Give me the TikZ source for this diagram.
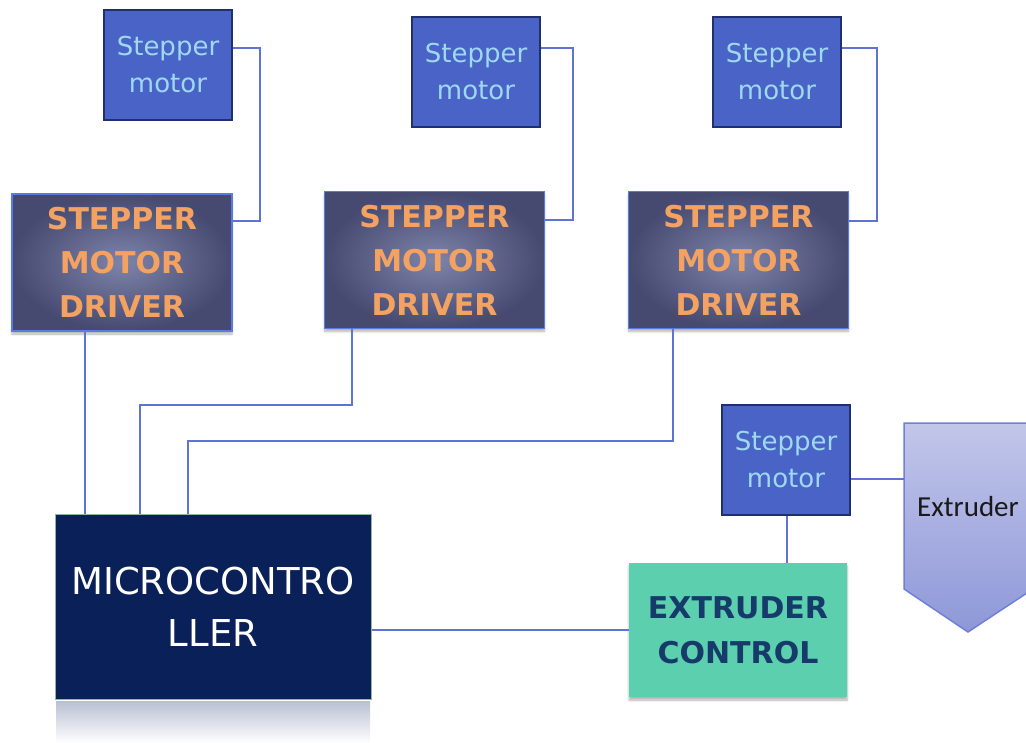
\documentclass[tikz,border=0pt]{standalone}
\usepackage{fontspec}
\setmainfont{DejaVu Sans}
\newfontfamily\calfont{Carlito}
\usetikzlibrary{shadows.blur,calc}

\definecolor{smfill}{HTML}{4A63C6}
\definecolor{smdraw}{HTML}{1F2F70}
\definecolor{smtext}{HTML}{9ED9F2}
\definecolor{wirec}{HTML}{5F72D6}
\definecolor{drvout}{HTML}{464A70}
\definecolor{drvin}{HTML}{7E83AA}
\definecolor{drvdraw}{HTML}{5B7BE0}
\definecolor{drvtext}{HTML}{F4A262}
\definecolor{mcufill}{HTML}{0A2058}
\definecolor{mcudraw}{HTML}{8CB8A8}
\definecolor{extfill}{HTML}{5BCFAE}
\definecolor{exttext}{HTML}{163A6A}
\definecolor{shtop}{HTML}{C2C6EA}
\definecolor{shbot}{HTML}{8E98D8}
\definecolor{shdraw}{HTML}{6E80DA}
\definecolor{reflc}{HTML}{B9C0D2}

\tikzset{
  motorbox/.style={draw=smdraw, line width=1.2pt, fill=smfill, text=smtext,
    minimum width=128pt, minimum height=110pt, inner sep=0pt, align=center,
    font=\fontsize{26}{37}\selectfont},
  driverbox/.style={draw=drvdraw, line width=1.5pt, inner color=drvin, outer color=drvout,
    text=drvtext, minimum width=220pt, minimum height=137pt, inner sep=0pt, align=center,
    font=\bfseries\fontsize{30}{44}\selectfont,
    blur shadow={shadow xshift=0pt, shadow yshift=-3pt, shadow opacity=30, shadow blur steps=6}},
  mcubox/.style={draw=mcudraw, line width=1pt, fill=mcufill, text=white,
    minimum width=316pt, minimum height=185pt, inner sep=0pt, align=center,
    font=\fontsize{37}{52}\selectfont},
  ctrlbox/.style={fill=extfill, text=exttext, minimum width=218pt, minimum height=134pt,
    inner sep=0pt, align=center, font=\bfseries\fontsize{30}{45}\selectfont,
    blur shadow={shadow xshift=0pt, shadow yshift=-3pt, shadow opacity=30, shadow blur steps=6}},
  wire/.style={draw=wirec, line width=1.6pt},
}

\begin{document}
\begin{tikzpicture}[x=1pt, y=-1pt]
\useasboundingbox (0,0) rectangle (1026,743);

% stepper motors
\node[motorbox] (sm1) at (168,65) {Stepper\\motor};
\node[motorbox] (sm2) at (476,72) {Stepper\\motor};
\node[motorbox] (sm3) at (777,72) {Stepper\\motor};
\node[motorbox] (sm4) at (786,460) {Stepper\\motor};

% drivers
\node[driverbox] (d1) at (122,262.5) {STEPPER\\MOTOR\\DRIVER};
\node[driverbox] (d2) at (434.5,260) {STEPPER\\MOTOR\\DRIVER};
\node[driverbox] (d3) at (738.5,260) {STEPPER\\MOTOR\\DRIVER};

% reflection under the microcontroller
\shade[top color=reflc, bottom color=white] (56,701) rectangle (370,743);

% microcontroller
\node[mcubox] (mcu) at (213,606.5) {MICROCONTRO\\LLER};

% extruder control
\node[ctrlbox] (ctrl) at (738,630) {EXTRUDER\\CONTROL};

% extruder (pentagon arrow pointing down)
\coordinate (ex1) at (904,423);
\coordinate (ex2) at (1033,423);
\coordinate (ex3) at (1033,589);
\coordinate (ex4) at (968,632);
\coordinate (ex5) at (904,589);
\shade[top color=shtop, bottom color=shbot, draw=shdraw, line width=1.5pt]
  (ex1) -- (ex2) -- (ex3) -- (ex4) -- (ex5) -- cycle;
\node[text=black!90, font=\calfont\fontsize{29}{30}\selectfont, inner sep=0pt] (extr) at (968,507) {Extruder};

% motor to driver wires
\draw[wire] (sm1.east |- 0,48) -| (260,221) -- (d1.east |- 0,221);
\draw[wire] (sm2.east |- 0,48) -| (573,220) -- (d2.east |- 0,220);
\draw[wire] (sm3.east |- 0,48) -| (877,221) -- (d3.east |- 0,221);

% driver to microcontroller wires
\draw[wire] (d1.south -| 85,0) -- (mcu.north -| 85,0);
\draw[wire] (d2.south -| 352,0) |- (140,405) -- (mcu.north -| 140,0);
\draw[wire] (d3.south -| 673,0) |- (188,441) -- (mcu.north -| 188,0);

% extruder side wires
\draw[wire] (sm4.east |- 0,479) -- (ex1 |- 0,479);
\draw[wire] (sm4.south -| 787,0) -- (ctrl.north -| 787,0);
\draw[wire] (mcu.east |- 0,630) -- (ctrl.west |- 0,630);
\end{tikzpicture}
\end{document}
